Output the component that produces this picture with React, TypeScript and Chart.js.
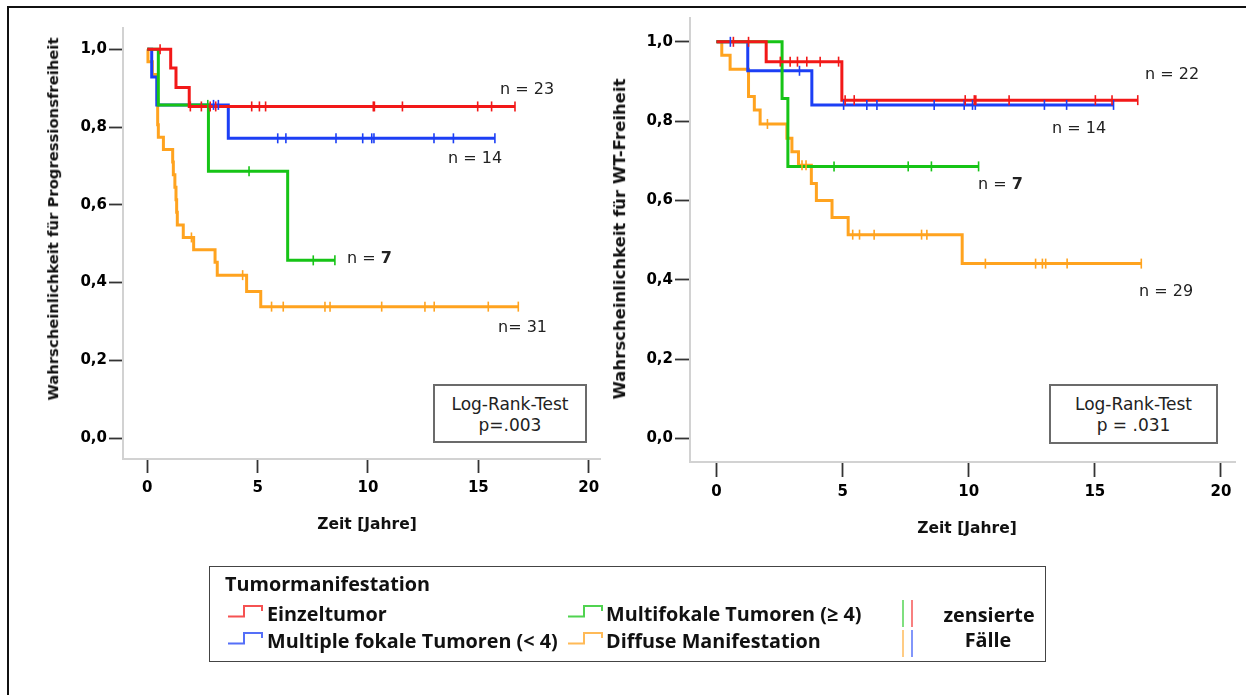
import React, { useEffect, useRef } from "react";
import { Chart, registerables } from "chart.js";

Chart.register(...registerables);

// ---------- Data: left panel (Progressionsfreiheit) ----------
const pfsRedT = [0, 1.06, 1.3, 1.9, 16.66];
const pfsRedS = [1, 0.952, 0.902, 0.853, 0.853];
const pfsRedCens = [0.58, 1.95, 2.45, 2.85, 3.1, 4.73, 5.08, 5.36, 10.24, 10.29, 11.56, 14.97, 15.6, 16.66];

const pfsBlueT = [0, 0.2, 0.43, 3.67, 15.75];
const pfsBlueS = [1, 0.929, 0.857, 0.771, 0.771];
const pfsBlueCens = [3.0, 3.22, 5.91, 6.28, 8.55, 9.76, 10.17, 10.27, 12.99, 13.87, 15.75];

const pfsGreenT = [0, 0.5, 2.77, 6.36, 8.5];
const pfsGreenS = [1, 0.857, 0.686, 0.457, 0.457];
const pfsGreenCens = [2.74, 4.61, 7.52, 8.5];

const pfsOrangeT = [0, 0.03, 0.23, 0.45, 0.47, 0.5, 0.73, 1.15, 1.18, 1.25, 1.3, 1.33, 1.36, 1.63, 2.1, 3.07, 3.17, 4.5, 5.14, 16.81];
const pfsOrangeS = [1, 0.968, 0.935, 0.871, 0.806, 0.774, 0.742, 0.71, 0.677, 0.645, 0.613, 0.581, 0.548, 0.516, 0.484, 0.452, 0.419, 0.377, 0.338, 0.338];
const pfsOrangeCens = [2.0, 4.32, 5.63, 6.16, 8.05, 8.28, 10.62, 12.58, 13.0, 15.45, 16.81];

// ---------- Data: right panel (WT-Freiheit) ----------
const wtRedT = [0, 1.97, 4.97, 16.7];
const wtRedS = [1, 0.95, 0.853, 0.853];
const wtRedCens = [0.67, 1.27, 2.53, 2.92, 3.21, 3.58, 4.11, 4.84, 5.1, 5.46, 9.86, 10.22, 10.28, 11.6, 15.02, 15.68, 16.7];

const wtBlueT = [0, 1.24, 3.78, 15.74];
const wtBlueS = [1, 0.927, 0.841, 0.841];
const wtBlueCens = [0.55, 3.29, 5.04, 5.96, 6.36, 8.63, 9.82, 10.15, 10.26, 13.0, 13.88, 15.74];

const wtGreenT = [0, 2.6, 2.83, 10.39];
const wtGreenS = [1, 0.857, 0.686, 0.686];
const wtGreenCens = [4.66, 7.6, 8.52, 10.39];

const wtOrangeT = [0, 0.21, 0.54, 1.27, 1.5, 1.73, 2.79, 2.99, 3.25, 3.76, 3.96, 4.58, 5.22, 9.74, 16.84];
const wtOrangeS = [1, 0.966, 0.931, 0.862, 0.828, 0.793, 0.757, 0.723, 0.689, 0.643, 0.6, 0.557, 0.514, 0.441, 0.441];
const wtOrangeCens = [2.02, 3.39, 3.55, 5.4, 5.67, 6.25, 8.13, 8.34, 10.66, 12.65, 12.92, 13.05, 13.9, 16.84];

const xTicks = [0, 5, 10, 15, 20];
const yTicks = [0, 0.2, 0.4, 0.6, 0.8, 1.0];

const groupNames = ["Einzeltumor", "Multiple fokale Tumoren (< 4)", "Multifokale Tumoren (\u2265 4)", "Diffuse Manifestation"];

const RED = "#f21818";
const BLUE = "#1c3ff5";
const GREEN = "#16c416";
const ORANGE = "#ffa31f";

type Series = { t: number[]; s: number[]; c: number[]; color: string; name: string };

function survAt(t: number[], s: number[], x: number): number {
  let v = s[0];
  for (let i = 0; i < t.length; i++) {
    if (t[i] <= x) v = s[i];
  }
  return v;
}

const TICK_FONT = { family: "'DejaVu Sans', Verdana, sans-serif", size: 15, weight: "bold" as const };

function buildConfig(series: Series[], geo: any) {
  const censorSets = series.map((g) => ({
    label: g.name + " zensiert",
    data: g.c.map((x) => ({ x, y: survAt(g.t, g.s, x) })),
    showLine: false,
    pointStyle: "line",
    pointRotation: 90,
    pointRadius: 5,
    pointBorderWidth: 1.6,
    pointBorderColor: g.color,
    pointBackgroundColor: g.color,
    borderColor: g.color,
  }));
  const lineSets = series.map((g) => ({
    label: g.name,
    data: g.t.map((x, i) => ({ x, y: g.s[i] })),
    stepped: "before",
    borderColor: g.color,
    borderWidth: 3,
    pointRadius: 0,
    fill: false,
  }));
  return {
    type: "line",
    data: { datasets: [...censorSets, ...lineSets] },
    options: {
      responsive: false,
      maintainAspectRatio: false,
      animation: false,
      events: [],
      layout: { padding: geo.padding },
      plugins: { legend: { display: false }, tooltip: { enabled: false }, title: { display: false } },
      scales: {
        x: {
          type: "linear",
          min: geo.xMin,
          max: geo.xMax,
          afterBuildTicks: (ax: any) => {
            ax.ticks = xTicks.map((v) => ({ value: v }));
          },
          afterFit: (s: any) => {
            s.height = geo.xH;
          },
          grid: { drawOnChartArea: false, drawTicks: true, tickLength: geo.xTickLen, tickColor: "#333", tickWidth: 1.8 },
          border: { display: true, color: "#d2d2d2", width: 2 },
          ticks: { font: TICK_FONT, color: "#000", padding: geo.xTickPad, maxRotation: 0, autoSkip: false, callback: (v: any) => String(v) },
        },
        y: {
          type: "linear",
          min: geo.yMin,
          max: geo.yMax,
          afterBuildTicks: (ax: any) => {
            ax.ticks = yTicks.map((v) => ({ value: v }));
          },
          afterFit: (s: any) => {
            s.width = geo.yW;
          },
          grid: { drawOnChartArea: false, drawTicks: true, tickLength: geo.yTickLen, tickColor: "#333", tickWidth: 1.8 },
          border: { display: true, color: "#d2d2d2", width: 2 },
          ticks: { font: TICK_FONT, color: "#000", padding: 2, autoSkip: false, callback: (v: any) => Number(v).toFixed(1).replace(".", ",") },
        },
      },
    },
  };
}

function KMChart({ series, geo, left, top, width, height }: any) {
  const ref = useRef<HTMLCanvasElement | null>(null);
  useEffect(() => {
    if (!ref.current) return;
    const chart = new Chart(ref.current, buildConfig(series, geo) as any);
    return () => chart.destroy();
  }, []);
  return (
    <canvas
      ref={ref}
      width={width}
      height={height}
      style={{ position: "absolute", left, top, width, height }}
    />
  );
}

const ANNOT_FONT = "'DejaVu Sans', Verdana, sans-serif";
const LEG_FONT = "'Open Sans', 'Noto Sans', sans-serif";
const LEG_SIZE = 19.8;

function Txt({ x, y, children, size = 16, bold = false, font = ANNOT_FONT, color = "#222", center = false }: any) {
  return (
    <div
      style={{
        position: "absolute",
        left: x,
        top: y,
        transform: center ? "translate(-50%, -50%)" : "translateY(-50%)",
        fontFamily: font,
        fontSize: size,
        fontWeight: bold ? 700 : 400,
        color,
        whiteSpace: "nowrap",
        lineHeight: 1.2,
      }}
    >
      {children}
    </div>
  );
}

function VTitle({ x, y, text, size }: any) {
  return (
    <div
      style={{
        position: "absolute",
        left: x,
        top: y,
        transform: "translate(-50%, -50%) rotate(-90deg)",
        fontFamily: ANNOT_FONT,
        fontSize: size,
        fontWeight: 700,
        color: "#111",
        whiteSpace: "nowrap",
        lineHeight: 1.2,
      }}
    >
      {text}
    </div>
  );
}

function LogRank({ x, y, w, h, p }: any) {
  return (
    <div
      style={{
        position: "absolute",
        left: x,
        top: y,
        width: w,
        height: h,
        boxSizing: "border-box",
        border: "2px solid #6b6b6b",
        fontFamily: ANNOT_FONT,
        fontSize: 17,
        color: "#222",
        textAlign: "center",
        lineHeight: "21px",
        paddingTop: 8,
        background: "#fff",
      }}
    >
      <div>Log-Rank-Test</div>
      <div>{p}</div>
    </div>
  );
}

function StepIcon({ x, y, color }: any) {
  return (
    <svg style={{ position: "absolute", left: x, top: y }} width={36} height={14}>
      <path d="M0,11.5 H16 V1 H34 V6" stroke={color} strokeWidth={2} fill="none" opacity={0.75} />
    </svg>
  );
}

function CensIcon({ x, y, color }: any) {
  return <div style={{ position: "absolute", left: x, top: y, width: 2, height: 27, background: color, opacity: 0.55 }} />;
}

export default function App() {
  const leftSeries: Series[] = [
    { t: pfsRedT, s: pfsRedS, c: pfsRedCens, color: RED, name: groupNames[0] },
    { t: pfsGreenT, s: pfsGreenS, c: pfsGreenCens, color: GREEN, name: groupNames[2] },
    { t: pfsBlueT, s: pfsBlueS, c: pfsBlueCens, color: BLUE, name: groupNames[1] },
    { t: pfsOrangeT, s: pfsOrangeS, c: pfsOrangeCens, color: ORANGE, name: groupNames[3] },
  ];
  const rightSeries: Series[] = [
    { t: wtRedT, s: wtRedS, c: wtRedCens, color: RED, name: groupNames[0] },
    { t: wtGreenT, s: wtGreenS, c: wtGreenCens, color: GREEN, name: groupNames[2] },
    { t: wtBlueT, s: wtBlueS, c: wtBlueCens, color: BLUE, name: groupNames[1] },
    { t: wtOrangeT, s: wtOrangeS, c: wtOrangeCens, color: ORANGE, name: groupNames[3] },
  ];

  const leftGeo = {
    padding: { left: 0, top: 28, right: 10, bottom: 0 },
    xMin: -1.101,
    xMax: 20.512,
    yMin: -0.054,
    yMax: 1.0548,
    yW: 123,
    xH: 101,
    xTickLen: 14,
    xTickPad: 6,
    yTickLen: 14,
  };
  const rightGeo = {
    padding: { left: 0, top: 18, right: 11, bottom: 0 },
    xMin: -1.05,
    xMax: 20.555,
    yMin: -0.059,
    yMax: 1.06,
    yW: 85,
    xH: 98,
    xTickLen: 15,
    xTickPad: 6,
    yTickLen: 15,
  };

  return (
    <div style={{ position: "absolute", left: 0, top: 0, width: 1246, height: 695, background: "#fff", overflow: "hidden" }}>
      {/* frame */}
      <div style={{ position: "absolute", left: 7, top: 6, width: 2, height: 700, background: "#111" }} />
      <div style={{ position: "absolute", left: 7, top: 6, width: 1250, height: 2, background: "#111" }} />

      <KMChart series={leftSeries} geo={leftGeo} left={0} top={0} width={610} height={560} />
      <KMChart series={rightSeries} geo={rightGeo} left={605} top={0} width={641} height={560} />

      {/* axis titles */}
      <VTitle x={53} y={219} size={14.8} text="Wahrscheinlichkeit für Progressionsfreiheit" />
      <VTitle x={620} y={239} size={16.5} text="Wahrscheinlichkeit für WT-Freiheit" />
      <Txt x={367} y={524} size={15.5} bold color="#111" center>Zeit [Jahre]</Txt>
      <Txt x={967} y={528} size={15.5} bold color="#111" center>Zeit [Jahre]</Txt>

      {/* n labels */}
      <Txt x={500} y={89}>n = 23</Txt>
      <Txt x={448} y={158}>n = 14</Txt>
      <Txt x={347} y={258}>n = <b>7</b></Txt>
      <Txt x={498} y={327}>n= 31</Txt>
      <Txt x={1145} y={74}>n = 22</Txt>
      <Txt x={1052} y={128}>n = 14</Txt>
      <Txt x={978} y={184}>n = <b>7</b></Txt>
      <Txt x={1139} y={291}>n = 29</Txt>

      <LogRank x={433} y={384} w={154} h={59} p="p=.003" />
      <LogRank x={1049} y={384} w={169} h={60} p="p = .031" />

      {/* legend */}
      <div style={{ position: "absolute", left: 209, top: 566, width: 837, height: 96, boxSizing: "border-box", border: "1.5px solid #444" }} />
      <Txt x={225} y={584} size={LEG_SIZE} bold font={LEG_FONT} color="#111">Tumormanifestation</Txt>
      <StepIcon x={228} y={605} color={RED} />
      <Txt x={267} y={614} size={LEG_SIZE} bold font={LEG_FONT} color="#111">{groupNames[0]}</Txt>
      <StepIcon x={228} y={632} color={BLUE} />
      <Txt x={267} y={641} size={LEG_SIZE} bold font={LEG_FONT} color="#111">{groupNames[1]}</Txt>
      <StepIcon x={568} y={605} color={GREEN} />
      <Txt x={606} y={614} size={LEG_SIZE} bold font={LEG_FONT} color="#111">{groupNames[2]}</Txt>
      <StepIcon x={568} y={632} color={ORANGE} />
      <Txt x={606} y={641} size={LEG_SIZE} bold font={LEG_FONT} color="#111">{groupNames[3]}</Txt>
      <CensIcon x={902} y={600} color={GREEN} />
      <CensIcon x={911} y={600} color={RED} />
      <CensIcon x={902} y={630} color={ORANGE} />
      <CensIcon x={911} y={630} color={BLUE} />
      <Txt x={989} y={615} size={LEG_SIZE} bold font={LEG_FONT} color="#111" center>zensierte</Txt>
      <Txt x={988} y={640} size={LEG_SIZE} bold font={LEG_FONT} color="#111" center>Fälle</Txt>
    </div>
  );
}
